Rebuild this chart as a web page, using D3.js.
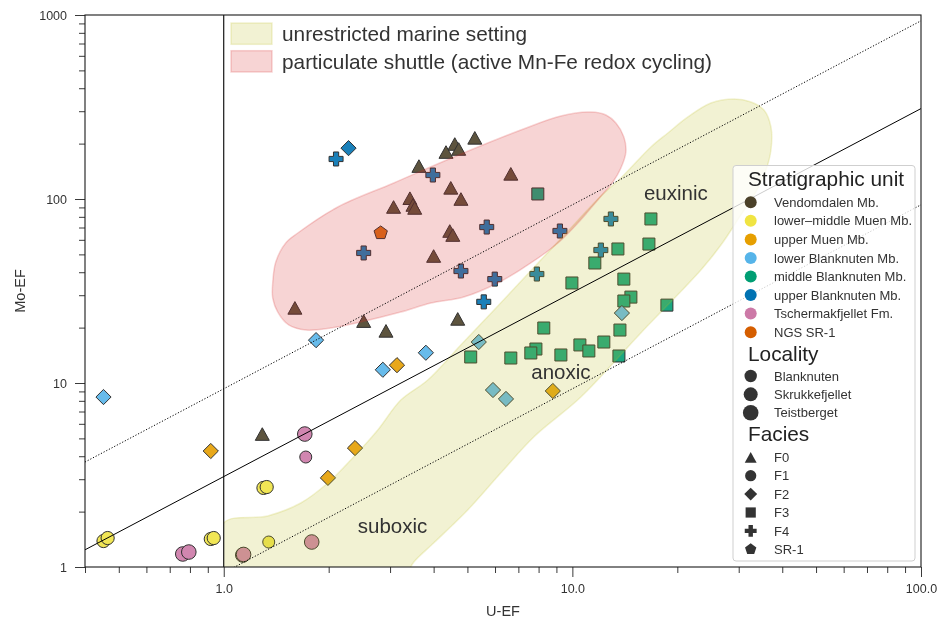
<!DOCTYPE html>
<html><head><meta charset="utf-8">
<script src="https://cdn.jsdelivr.net/npm/d3@7"></script>
<style>body{margin:0;background:#fff} svg{display:block;font-family:"Liberation Sans",Arial,sans-serif}</style>
</head><body><svg id="c" width="940" height="623"></svg>
<script>
// ---------------- data ----------------
const units = ["Vendomdalen Mb.","lower\u2013middle Muen Mb.","upper Muen Mb.","lower Blanknuten Mb.","middle Blanknuten Mb.","upper Blanknuten Mb.","Tschermakfjellet Fm.","NGS SR-1"];
const unitColors = ["#4b4129","#f0e442","#e69f00","#56b4e9","#009e73","#0072b2","#cc79a7","#d55e00"];
const localities = ["Blanknuten","Skrukkefjellet","Teistberget"];
const faciesNames = ["F0","F1","F2","F3","F4","SR-1"];
const regionNames = ["unrestricted marine setting","particulate shuttle (active Mn-Fe redox cycling)"];
const xTickValues = [1,10,100];
const xTickLabels = ["1.0","10.0","100.0"];
const yTickValues = [1,10,100,1000];
const yTickLabels = ["1","10","100","1000"];
const lineFactors = [0.93, 3.1, 9.3];   // Mo/U reference lines (0.3x, 1x, 3x SW)
const lineDash = ["1.2,1.8", null, "1.2,1.8"];

// [U-EF, Mo-EF, unit]
const faciesF0 = [[5.25,215,0],[4.60,199,0],[4.34,180,0],[4.72,187,0],[3.63,151,0],[6.66,137,0],[4.48,115,0],[3.42,101,0],[4.79,100,0],[3.07,90.5,0],[3.49,92.8,0],[3.53,89.4,0],[4.45,67,0],[4.54,63.7,0],[4.00,49,0],[1.60,25.6,0],[2.52,21.7,0],[4.69,22.3,0],[2.92,19.2,0],[1.29,5.28,0]];
// [U-EF, Mo-EF, unit, locality]
const faciesF1 = [[0.452,1.384,1,1],[0.4645,1.437,1,1],[0.918,1.42,1,1],[0.936,1.437,1,1],[1.30,2.69,1,1],[1.328,2.72,1,1],[1.346,1.367,1,0],[0.763,1.177,6,2],[0.794,1.206,6,2],[1.708,5.28,6,2],[1.719,3.96,6,0],[1.788,1.367,6,2],[1.134,1.162,6,2],[1.14,1.17,6,2]];
const faciesF2 = [[2.28,189,5],[0.452,8.39,3],[1.84,17.1,3],[2.86,11.8,3],[3.80,14.6,3],[5.39,16.7,3],[5.92,9.16,3],[6.45,8.19,3],[13.87,24.0,3],[0.918,4.27,2],[1.99,3.05,2],[2.38,4.43,2],[3.14,12.5,2],[8.79,9.05,2]];
const faciesF3 = [[7.96,106.5,4],[16.8,77.9,4],[16.58,56.9,4],[13.51,53.5,4],[11.6,44.9,4],[14.05,36.7,4],[14.72,29.3,4],[14.05,27.9,4],[18.67,26.5,4],[9.97,34.96,4],[8.28,19.9,4],[13.69,19.4,4],[12.31,16.7,4],[10.51,16.1,4],[11.15,14.93,4],[13.6,14.02,4],[9.27,14.2,4],[7.86,15.3,4],[7.60,14.56,4],[6.66,13.67,4],[5.11,13.85,4]];
const faciesF4 = [[2.10,165,5],[3.98,135,5],[5.68,70.4,5],[2.52,50.9,5],[4.79,40.6,5],[5.99,36.7,5],[5.57,27.6,5],[7.91,39.1,5],[9.21,67.0,5],[12.9,77.9,5],[12.07,52.8,5]];
const faciesSR1 = [[2.82,65.4,7]];

// region outlines [U-EF, Mo-EF]
const unrestrictedRegion = [[1.0,1.734],[1.337,1.893],[1.663,2.227],[1.988,2.861],[2.314,3.815],[2.766,5.554],[3.22,8.08],[3.849,10.38],[4.786,16.09],[6.113,26.21],[8.12,46.6],[9.90,69.6],[12.07,103.8],[13.78,130],[16.8,191.7],[18.79,228.4],[21.45,279.1],[24.97,332.4],[29.07,349.5],[32.53,336.7],[35.44,304.5],[37.12,246.2],[37.12,184.6],[35.92,143.8],[33.61,109.2],[30.45,81.9],[26.68,56.2],[23.37,41.1],[15.72,18.7],[10.58,8.39],[7.75,5.09],[6.23,3.24],[5.01,2.04],[4.0,1.35],[3.51,1.065],[3.22,0.85],[1.0,0.85]];
const shuttleRegion = [[1.382,34.96],[1.41,45.46],[1.506,57.67],[1.631,65.35],[2.124,90.5],[3.074,122.2],[4.571,169.2],[7.115,237.1],[9.27,282.6],[11.3,297],[12.48,286.2],[13.33,258.8],[14.05,217.3],[14.24,180.1],[13.78,147.4],[13.07,123.7],[11.83,98.8],[10.37,74.1],[9.09,57.67],[7.6,44.9],[6.11,34.96],[4.88,29.34],[3.93,27.2],[3.22,24.3],[2.47,21.45],[2.028,19.9],[1.719,19.41],[1.536,20.67],[1.429,24.3],[1.382,28.97]];
const regionLabels = [["euxinic",19.8,107.8],["anoxic",9.27,11.48],["suboxic",3.05,1.69]];

// ---------------- drawing ----------------
const svg = d3.select("#c");
const L = 85, R = 921, T = 15, B = 567;
const x = d3.scaleLog().domain([0.4,100]).range([L,R]);
const y = d3.scaleLog().domain([1,1000]).range([B,T]);

const defs = svg.append("defs");
defs.append("clipPath").attr("id","clip")
  .append("rect").attr("x",L).attr("y",T).attr("width",R-L).attr("height",B-T);
defs.append("clipPath").attr("id","clipU")
  .append("rect").attr("x",x(1)).attr("y",T).attr("width",R-x(1)).attr("height",B-T);

function shape(f, s) {
  s = s || 1;
  if (f === 0) { const w=7*s, h=6.3*s; return `M0,${-h}L${w},${h}L${-w},${h}Z`; }
  if (f === 2) { const d=7.6*s; return `M0,${-d}L${d},0L0,${d}L${-d},0Z`; }
  if (f === 3) { const d=6*s; return `M${-d},${-d}H${d}V${d}H${-d}Z`; }
  if (f === 4) { const a=2.6*s, l=7*s;
    return `M${-a},${-l}H${a}V${-a}H${l}V${a}H${a}V${l}H${-a}V${a}H${-l}V${-a}H${-a}Z`; }
  if (f === 5) { const r=7*s; return d3.range(5).map(k=>{const t=-Math.PI/2+k*2*Math.PI/5; return (k?"L":"M")+(r*Math.cos(t)).toFixed(2)+","+(r*Math.sin(t)).toFixed(2);}).join("")+"Z"; }
  return null;
}
const locR = [6.0, 6.6, 7.3];

const plot = svg.append("g").attr("clip-path","url(#clip)");
const mk = plot.append("g").attr("opacity",0.9);
const groups = [[faciesF3,3],[faciesF0,0],[faciesF2,2],[faciesF4,4],[faciesSR1,5]];
groups.forEach(([arr,f]) => {
  mk.selectAll(null).data(arr).enter().append("path")
    .attr("d", shape(f))
    .attr("transform", d => `translate(${x(d[0])},${y(d[1])})`)
    .attr("fill", d => unitColors[d[2]]).attr("stroke","#1a1a1a").attr("stroke-width",1);
});
mk.selectAll(null).data(faciesF1).enter().append("circle")
  .attr("cx", d=>x(d[0])).attr("cy", d=>y(d[1])).attr("r", d=>locR[d[3]])
  .attr("fill", d=>unitColors[d[2]]).attr("stroke","#1a1a1a").attr("stroke-width",1);

// regions (drawn on top with transparency)
const area = d3.line().x(d=>x(d[0])).y(d=>y(d[1])).curve(d3.curveCatmullRomClosed.alpha(0.5));
const regionFill = ["#bcbd22","#d62728"];
[unrestrictedRegion, shuttleRegion].forEach((reg,i) => {
  const g = i === 0 ? plot.append("g").attr("clip-path","url(#clipU)") : plot;
  g.append("path").attr("d", area(reg))
    .attr("fill", regionFill[i]).attr("fill-opacity",0.2)
    .attr("stroke", regionFill[i]).attr("stroke-opacity",0.2).attr("stroke-width",1.5);
});

// reference lines
lineFactors.forEach((k,i) => {
  plot.append("line")
    .attr("x1", x(0.4)).attr("y1", y(0.4*k)).attr("x2", x(100)).attr("y2", y(100*k))
    .attr("stroke","#000").attr("stroke-width",1)
    .attr("stroke-dasharray", lineDash[i]);
});

// region labels
plot.selectAll(null).data(regionLabels).enter().append("text")
  .attr("x", d=>x(d[1])).attr("y", d=>y(d[2]))
  .attr("text-anchor","middle").attr("dominant-baseline","central")
  .attr("font-size",20.5).attr("fill","#333").text(d=>d[0]);

// vertical line at U-EF = 1
svg.append("line").attr("x1",x(1)).attr("x2",x(1)).attr("y1",T).attr("y2",B)
  .attr("stroke","#000").attr("stroke-width",1.1);

// axes
const minorX = [];
[0.1,1,10].forEach(dec => d3.range(2,10).forEach(m => { const v=dec*m; if (v>=0.4 && v<100) minorX.push(v); }));
const minorY = [];
[1,10,100].forEach(dec => d3.range(2,10).forEach(m => minorY.push(dec*m)));

const xAxisMajor = d3.axisBottom(x).tickValues(xTickValues).tickSize(10).tickPadding(7).tickFormat((d,i)=>xTickLabels[i]);
const xAxisMinor = d3.axisBottom(x).tickValues(minorX).tickSize(6).tickFormat("");
const yAxisMajor = d3.axisLeft(y).tickValues(yTickValues).tickSize(10).tickPadding(8).tickFormat((d,i)=>yTickLabels[i]);
const yAxisMinor = d3.axisLeft(y).tickValues(minorY).tickSize(6).tickFormat("");

function styleAxis(g){
  g.select(".domain").remove();
  g.selectAll("line").attr("stroke","#3a3a3a").attr("stroke-width",1);
  g.selectAll("text").attr("fill","#333").attr("font-size",12.5).attr("font-family","Liberation Sans, Arial, sans-serif");
}
svg.append("g").attr("transform",`translate(0,${B})`).call(xAxisMinor).call(styleAxis);
svg.append("g").attr("transform",`translate(0,${B})`).call(xAxisMajor).call(styleAxis);
svg.append("g").attr("transform",`translate(${L},0)`).call(yAxisMinor).call(styleAxis);
svg.append("g").attr("transform",`translate(${L},0)`).call(yAxisMajor).call(styleAxis);

svg.append("rect").attr("x",L).attr("y",T).attr("width",R-L).attr("height",B-T)
  .attr("fill","none").attr("stroke","#1a1a1a").attr("stroke-width",1.1);

svg.append("text").attr("x",(L+R)/2).attr("y",616).attr("text-anchor","middle")
  .attr("font-size",14.5).attr("fill","#333").text("U-EF");
svg.append("text").attr("transform",`translate(25,${(T+B)/2}) rotate(-90)`).attr("text-anchor","middle")
  .attr("font-size",14.5).attr("fill","#333").text("Mo-EF");

// upper-left legend (regions)
const lg1 = svg.append("g");
regionNames.forEach((n,i) => {
  const yy = 23 + i*27.7;
  lg1.append("rect").attr("x",231).attr("y",yy).attr("width",41).attr("height",21.3)
    .attr("fill",regionFill[i]).attr("fill-opacity",0.2)
    .attr("stroke",regionFill[i]).attr("stroke-opacity",0.2).attr("stroke-width",1.5);
  lg1.append("text").attr("x",282).attr("y",yy+18).attr("font-size",20.8).attr("fill","#333").text(n);
});

// right legend
const lg = svg.append("g");
lg.append("rect").attr("x",733).attr("y",165.5).attr("width",182).attr("height",395.5).attr("rx",3)
  .attr("fill","#fff").attr("fill-opacity",0.8).attr("stroke","#cfcfcf").attr("stroke-width",1);
const title = (t,yb) => lg.append("text").attr("x",748).attr("y",yb).attr("font-size",20.8).attr("fill","#222").text(t);
const item = (t,yc) => lg.append("text").attr("x",774).attr("y",yc+4.6).attr("font-size",13).attr("fill","#333").text(t);
title("Stratigraphic unit",186);
units.forEach((u,i) => {
  const yc = 202.3 + i*18.55;
  lg.append("circle").attr("cx",750.7).attr("cy",yc).attr("r",6).attr("fill",unitColors[i]);
  item(u,yc);
});
title("Locality",360.7);
const legLocR = [6.2,7.0,7.8];
localities.forEach((n,i) => {
  const yc = 376 + i*18.35;
  lg.append("circle").attr("cx",750.7).attr("cy",yc).attr("r",legLocR[i]).attr("fill","#333");
  item(n,yc);
});
title("Facies",440.7);
faciesNames.forEach((n,i) => {
  const yc = 457.3 + i*18.4;
  if (i === 1) lg.append("circle").attr("cx",750.7).attr("cy",yc).attr("r",5.6).attr("fill","#333");
  else lg.append("path").attr("d",shape(i,0.85)).attr("transform",`translate(750.7,${yc})`).attr("fill","#333");
  item(n,yc);
});
</script></body></html>
